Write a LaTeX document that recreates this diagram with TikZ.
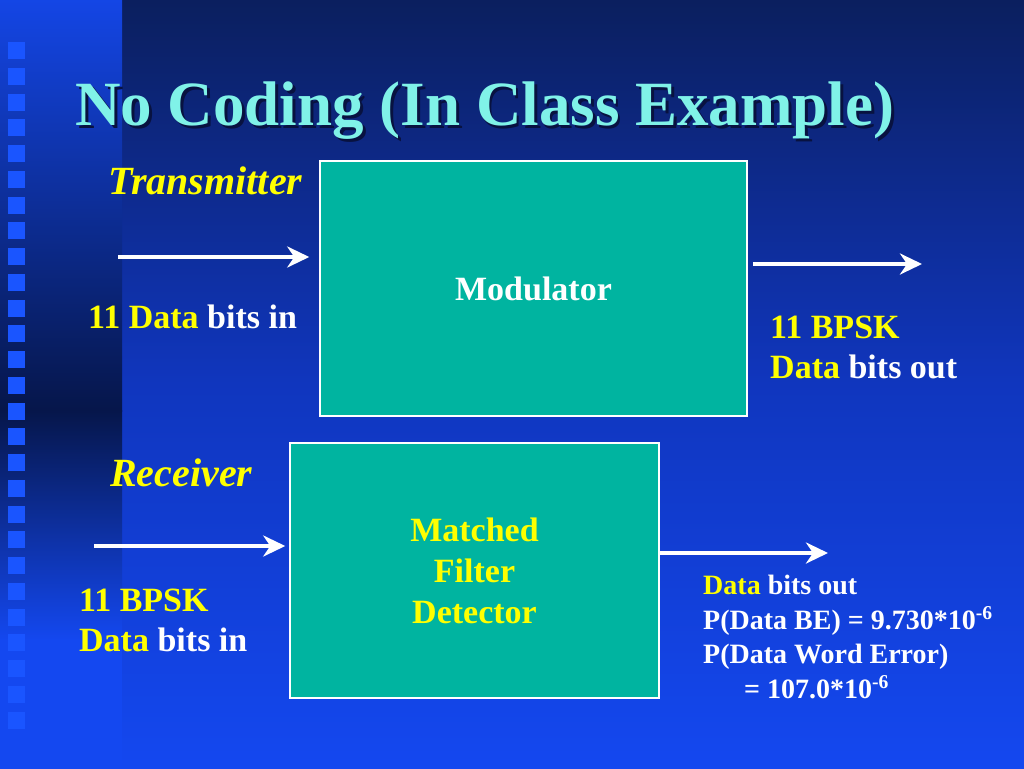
\documentclass[tikz,border=0pt]{standalone}
\usepackage{fontspec}
\setmainfont{Liberation Serif}
\usepackage{xcolor}
\usepackage{tikz}
\usetikzlibrary{arrows.meta,positioning,calc}
\definecolor{Navy}{HTML}{0B1F5E}
\definecolor{MidBlue}{HTML}{1036BE}
\definecolor{Bright}{HTML}{1448F0}
\definecolor{StripTop}{HTML}{1446E6}
\definecolor{StripDark}{HTML}{06164A}
\definecolor{Tile}{HTML}{1A55FF}
\definecolor{Teal}{HTML}{00B4A0}
\definecolor{Aqua}{HTML}{80F2E8}
\definecolor{Shade}{HTML}{081240}
\definecolor{Gold}{HTML}{FFFF00}
\newcommand{\shadowtext}[1]{\rlap{\hspace*{3pt}\raisebox{-3pt}{\textcolor{Shade}{#1}}}\textcolor{Aqua}{#1}}
\tikzset{
  blockbox/.style={draw=white,line width=1.5pt,fill=Teal,font=\fontsize{34}{41}\selectfont\bfseries,align=center,inner sep=0pt},
  arrow/.style={-{Stealth[length=22pt,width=21pt,inset=7pt]},line width=4pt,draw=white},
  headline/.style={font=\fontsize{63}{70}\selectfont\bfseries,inner sep=0pt,anchor=base west},
  role/.style={font=\fontsize{40}{48}\selectfont\bfseries\itshape,text=Gold,inner sep=0pt,anchor=base west},
  label/.style={font=\fontsize{34}{40}\selectfont\bfseries,text=white,align=left,inner sep=0pt,anchor=base west},
  result/.style={font=\fontsize{28}{34.5}\selectfont\bfseries,text=white,align=left,inner sep=0pt,anchor=base west}
}
\begin{document}
\begin{tikzpicture}[x=1pt,y=-1pt]
  \useasboundingbox (0,0) rectangle (1024,768);
  % background
  \fill[top color=Navy,bottom color=Bright,middle color=MidBlue] (121,-2) rectangle (1026,770);
  \fill[top color=StripTop,bottom color=StripDark] (-2,-2) rectangle (122,411);
  \fill[top color=StripDark,bottom color=Bright] (-2,410) rectangle (122,641);
  \fill[Bright] (-2,640) rectangle (122,770);
  \foreach \k in {0,...,26}
    \fill[Tile] (8,{42+25.75*\k}) rectangle ++(17,17);

  % title
  \node[headline] (title) at (75,125) {\shadowtext{No Coding (In Class Example)}};

  % transmitter
  \node[role] (tx) at (108,194) {Transmitter};
  \node[blockbox,minimum width=427pt,minimum height=255pt,text=white] (modulator) at (533.5,288.5) {Modulator};
  \coordinate (txin) at (118,257);
  \coordinate (txout) at (922,264);
  \draw[arrow,shorten >=10pt] (txin) -- (txin -| modulator.west);
  \draw[arrow,shorten <=5pt] (modulator.east |- txout) -- (txout);
  \node[label] (txinlabel) at (88,328) {\textcolor{Gold}{11 Data} bits in};
  \node[label] (txoutlabel) at (770,378) {\textcolor{Gold}{11 BPSK}\\\textcolor{Gold}{Data} bits out};

  % receiver
  \node[role] (rx) at (110,486) {Receiver};
  \node[blockbox,minimum width=369pt,minimum height=255pt,text=Gold] (detector) at (474.5,570.5) {Matched\\ Filter\\Detector};
  \coordinate (rxin) at (94,546);
  \coordinate (rxout) at (828,553);
  \draw[arrow,shorten >=4pt] (rxin) -- (rxin -| detector.west);
  \draw[arrow] (detector.east |- rxout) -- (rxout);
  \node[label] (rxinlabel) at (79,651) {\textcolor{Gold}{11 BPSK}\\\textcolor{Gold}{Data} bits in};
  \node[result] (rxoutlabel) at (703,698) {\textcolor{Gold}{Data} bits out\\
    P(Data BE) = 9.730*10\textsuperscript{-6}\\
    P(Data Word Error)\\
    \hspace*{41pt}= 107.0*10\textsuperscript{-6}};
\end{tikzpicture}
\end{document}
